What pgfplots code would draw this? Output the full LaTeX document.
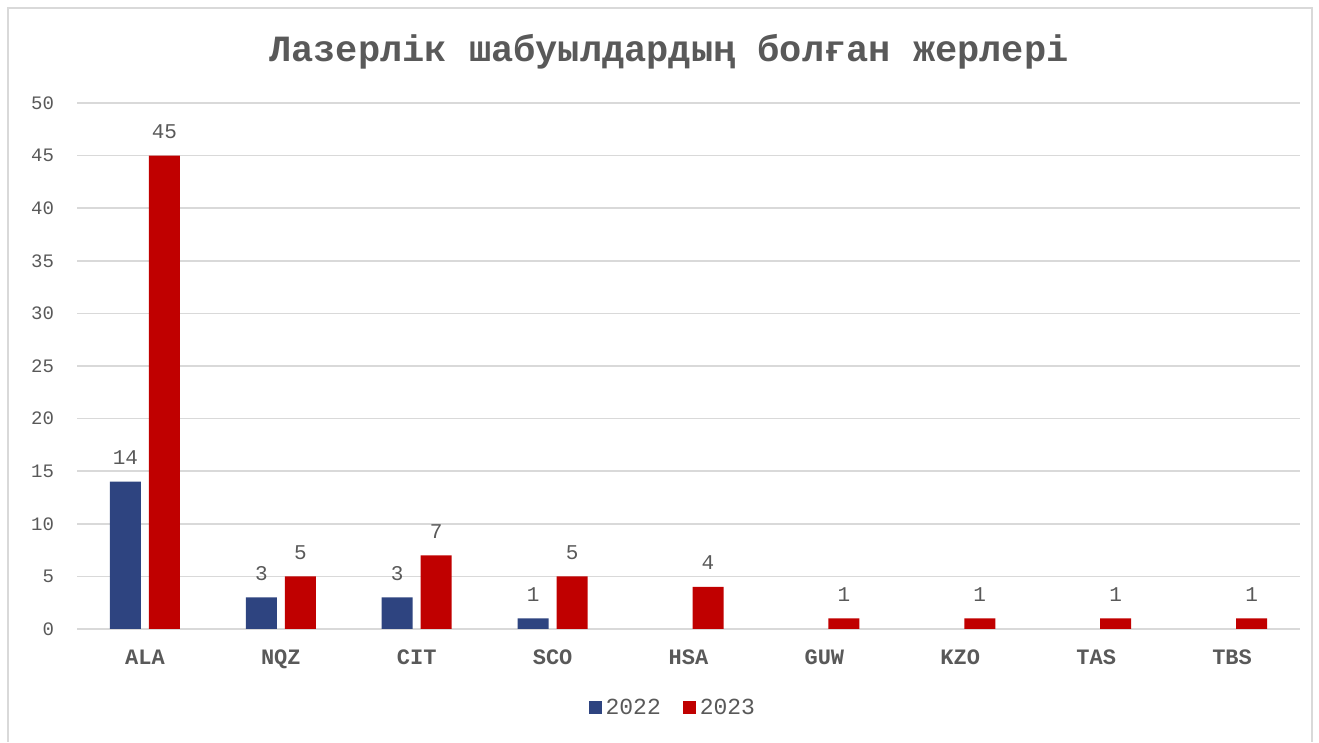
\documentclass[border=0pt]{standalone}
\usepackage{fontspec}
\setmainfont{Liberation Mono}
\usepackage{pgfplots}
\pgfplotsset{compat=1.18}
\definecolor{c22}{HTML}{2E4480}
\definecolor{c23}{HTML}{C00000}
\definecolor{txt}{HTML}{595959}
\definecolor{grd}{HTML}{D9D9D9}
\begin{document}
\begin{tikzpicture}[x=0.5pt,y=0.5pt]
\path (0,0) rectangle (1319,742);
\draw[grd, line width=0.6pt] (8,0) -- (8,734) -- (1312,734) -- (1312,0);
\node[txt, font=\bfseries\fontsize{18.5}{20}\selectfont] at (669,690) {Лазерлік шабуылдардың болған жерлері};
\begin{axis}[
  at={(38.5pt,56.5pt)}, anchor=south west,
  scale only axis, width=611.5pt, height=263pt,
  xmin=-0.5, xmax=8.5, ymin=0, ymax=50,
  ytick={0,5,...,50},
  xtick={0,...,8},
  xticklabels={ALA,NQZ,CIT,SCO,HSA,GUW,KZO,TAS,TBS},
  ybar=4pt, bar width=15.5pt,
  axis line style={draw=none},
  ymajorgrids, grid style={grd, line width=0.75pt},
  major tick length=0pt,
  /pgf/number format/assume math mode=true,
  tick label style={text=txt},
  yticklabel style={font=\fontsize{9.5}{11}\selectfont, xshift=-8pt},
  xticklabel style={font=\bfseries\fontsize{11}{12}\selectfont, yshift=-7pt},
  nodes near coords,
  every node near coord/.append style={text=txt, font=\fontsize{10.5}{12}\selectfont, yshift=5pt},
  legend style={at={(0.488,-0.15)}, anchor=center, draw=none, font=\fontsize{11.5}{12}\selectfont, text=txt},
  legend columns=2,
  /tikz/every even column/.append style={column sep=9pt},
  legend image code/.code={\fill[#1] (0pt,-3pt) rectangle (6.5pt,3.5pt);},
]
\addplot[fill=c22, draw=none] coordinates {(0,14) (1,3) (2,3) (3,1)};
\addplot[fill=c23, draw=none] coordinates {(0,45) (1,5) (2,7) (3,5) (4,4) (5,1) (6,1) (7,1) (8,1)};
\legend{2022,2023}
\end{axis}
\end{tikzpicture}
\end{document}
